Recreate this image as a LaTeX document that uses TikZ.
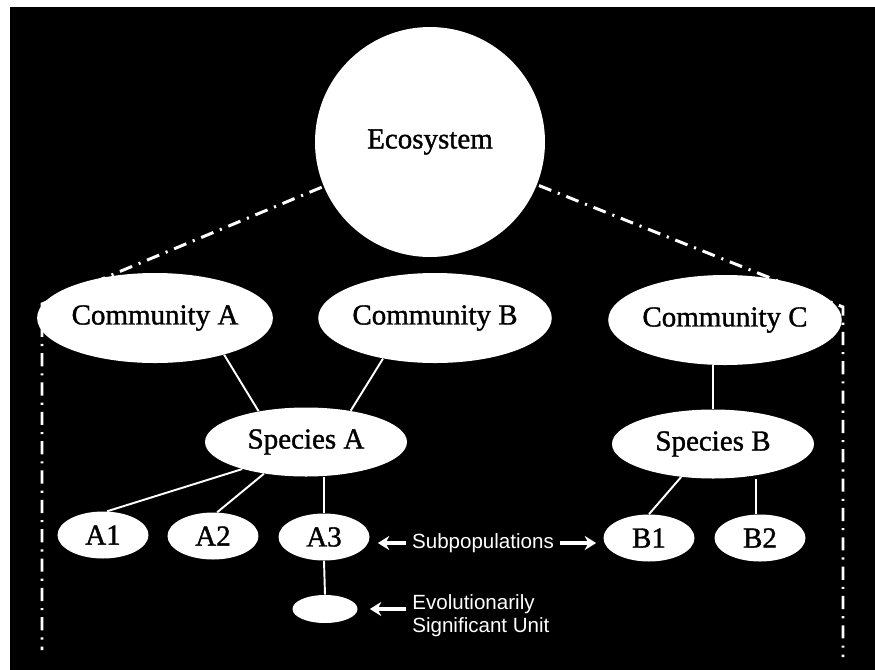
\documentclass[tikz,border=0pt]{standalone}
\usepackage{fontspec}
\setmainfont[FakeBold=1.2,AutoFakeBold=false]{Liberation Serif}
\newfontfamily\labelfont[FakeBold=1.2]{Liberation Serif}
\newfontfamily\notefont{Liberation Sans}
\usepackage{tikz}
\usetikzlibrary{backgrounds,shapes.geometric,arrows.meta}

\begin{document}
\begin{tikzpicture}[x=0.2mm, y=-0.2mm,
    oval/.style={ellipse, fill=white, text=black, inner sep=0pt,
                 font=\labelfont\fontsize{16.5}{20}\selectfont},
    eco/.style={oval, circle, minimum size=46mm}, % ecossistema
    comm/.style={oval, minimum width=44.8mm, minimum height=18mm}, % comunidades
    spec/.style={oval, minimum width=40.4mm, minimum height=13.8mm}, % especies
    subpop/.style={oval, minimum width=18.2mm, minimum height=9.4mm},
    esu/.style={oval, minimum width=13mm, minimum height=5.6mm},
    link/.style={draw=white, line width=1.1pt},
    bound/.style={draw=white, line width=1.7pt,
                  dash pattern=on 7.5pt off 4pt on 1.2pt off 4pt},
    note/.style={text=white, inner sep=1.2mm,
                 font=\notefont\fontsize{11.7}{13}\selectfont},
    pointer/.style={draw=white, line width=1.8pt,
                    -{Stealth[length=6.5pt, width=8pt]}},
  ]
  \useasboundingbox (0,0) rectangle (875,670);

  \node[eco]  (eco)  at (430,142) {Ecosystem};
  \node[comm] (comA) at (155,318) {Community A};
  \node[comm] (comB) at (435,318) {Community B};
  \node[comm] (comC) at (725,320) {Community C};
  \node[spec] (spA)  at (306,442) {Species A};
  \node[spec] (spB)  at (713,444) {Species B};
  \node[subpop] (a1) at (103,535) {A1};
  \node[subpop] (a2) at (213,536) {A2};
  \node[subpop] (a3) at (324,537) {A3};
  \node[subpop] (b1) at (649,538) {B1};
  \node[subpop] (b2) at (760,538) {B2};
  \node[esu] (esu) at (325,609) {};

  \node[note] (subpops) at (483,543) {Subpopulations};
  \node[note, anchor=west, align=left] (esulabel) at (406,616)
    {Evolutionarily\\Significant Unit};

  % fundo e limites do ecossistema
  \begin{scope}[on background layer]
    \fill[black] (10,7) rectangle (875,670);
    \coordinate (cornerL) at (42,304);
    \coordinate (cornerR) at (843,307);
    \coordinate (bottomL) at (42,650);
    \coordinate (bottomR) at (843,657);
    \draw[bound] (eco.center) -- (cornerL) -- (bottomL);
    \draw[bound] (eco.center) -- (cornerR) -- (bottomR);
  \end{scope}

  \draw[link] (comA.-28) -- (spA.147);
  \draw[link] (comB.-142) -- (spA.35);
  \draw[link] (spB.north) -- (spB.north |- comC.south);
  \draw[link] (spA.203) -- (a1.80);
  \draw[link] (spA.217) -- (a2.80);
  \draw[link] (a3.north) -- (a3.north |- spA.south);
  \draw[link] (a3.south) -- (esu.north);
  \draw[link] (spB.-134) -- (b1.north);
  \draw[link] (b2.100) -- (b2.100 |- spB.south);

  \draw[pointer, shorten >=1.6mm] (subpops.west) -- (subpops.west -| a3.east);
  \draw[pointer, shorten >=1.4mm] (subpops.east) -- (subpops.east -| b1.west);
  \draw[pointer, shorten >=2.4mm] (esulabel.west |- esu.east) -- (esu.east);
\end{tikzpicture}
\end{document}
